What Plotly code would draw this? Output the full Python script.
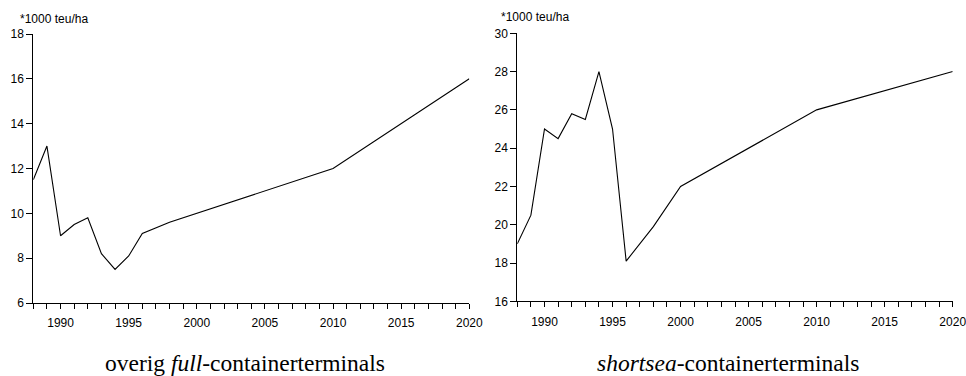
import plotly.graph_objects as go

# Left panel: overig full-containerterminals
years_full = [1988, 1989, 1990, 1991, 1992, 1993, 1994, 1995, 1996, 1998, 2010, 2020]
values_full = [11.5, 13.0, 9.0, 9.5, 9.8, 8.2, 7.5, 8.1, 9.1, 9.6, 12.0, 16.0]

# Right panel: shortsea-containerterminals
years_short = [1988, 1989, 1990, 1991, 1992, 1993, 1994, 1995, 1996, 1998, 2000, 2010, 2020]
values_short = [19.0, 20.5, 25.0, 24.5, 25.8, 25.5, 28.0, 25.0, 18.1, 19.9, 22.0, 26.0, 28.0]

unit_label = "*1000 teu/ha"
title_full = "overig <i>full</i>-containerterminals"
title_short = "<i>shortsea</i>-containerterminals"

W, H = 966, 376

fig = go.Figure()
fig.add_trace(go.Scatter(x=years_full, y=values_full, mode="lines",
                         line=dict(color="black", width=1.1), xaxis="x", yaxis="y",
                         showlegend=False, hoverinfo="skip"))
fig.add_trace(go.Scatter(x=years_short, y=values_short, mode="lines",
                         line=dict(color="black", width=1.1), xaxis="x2", yaxis="y2",
                         showlegend=False, hoverinfo="skip"))

tickfont = dict(family="Liberation Sans, Arial, sans-serif", size=12, color="black")

def xaxis_cfg(dom, anchor):
    return dict(domain=dom, anchor=anchor, range=[1988, 2020], tick0=1990, dtick=5,
                ticks="outside", ticklen=5, tickwidth=1, tickcolor="black",
                showline=True, linecolor="black", linewidth=1, showgrid=False,
                zeroline=False, tickfont=tickfont, automargin=False,
                ticklabelstandoff=4, ticklabeloverflow="allow",
                minor=dict(dtick=1, tick0=1988, ticks="outside", ticklen=5,
                           tickwidth=1, tickcolor="black", showgrid=False))

def yaxis_cfg(dom, anchor, rng):
    return dict(domain=dom, anchor=anchor, range=rng, dtick=2,
                ticks="outside", ticklen=6, tickwidth=1, tickcolor="black",
                showline=True, linecolor="black", linewidth=1, showgrid=False,
                zeroline=False, tickfont=tickfont, automargin=False,
                ticklabeloverflow="allow")

fig.update_layout(
    width=W, height=H,
    margin=dict(l=0, r=0, t=0, b=0),
    template="none",
    paper_bgcolor="white", plot_bgcolor="white",
    xaxis=xaxis_cfg([33.3 / W, 469.3 / W], "y"),
    yaxis=yaxis_cfg([1 - 303 / H, 1 - 34 / H], "x", [6, 18]),
    xaxis2=xaxis_cfg([517.3 / W, 952.7 / W], "y2"),
    yaxis2=yaxis_cfg([1 - 301.3 / H, 1 - 33.3 / H], "x2", [16, 30]),
    annotations=[
        dict(text=unit_label, x=18 / W, y=1 - 19 / H, xref="paper", yref="paper",
             xanchor="left", yanchor="middle", showarrow=False,
             font=dict(family="Liberation Sans, Arial, sans-serif", size=12, color="black")),
        dict(text=unit_label, x=499 / W, y=1 - 17 / H, xref="paper", yref="paper",
             xanchor="left", yanchor="middle", showarrow=False,
             font=dict(family="Liberation Sans, Arial, sans-serif", size=12, color="black")),
        dict(text=title_full, x=245 / W, y=1 - 363 / H, xref="paper", yref="paper",
             xanchor="center", yanchor="middle", showarrow=False,
             font=dict(family="Liberation Serif, Times New Roman, serif", size=23.5, color="black")),
        dict(text=title_short, x=728 / W, y=1 - 363 / H, xref="paper", yref="paper",
             xanchor="center", yanchor="middle", showarrow=False,
             font=dict(family="Liberation Serif, Times New Roman, serif", size=23.5, color="black")),
    ],
)

fig.write_html("out.html", config={"displayModeBar": False},
               post_script="document.body.style.margin='0';")
